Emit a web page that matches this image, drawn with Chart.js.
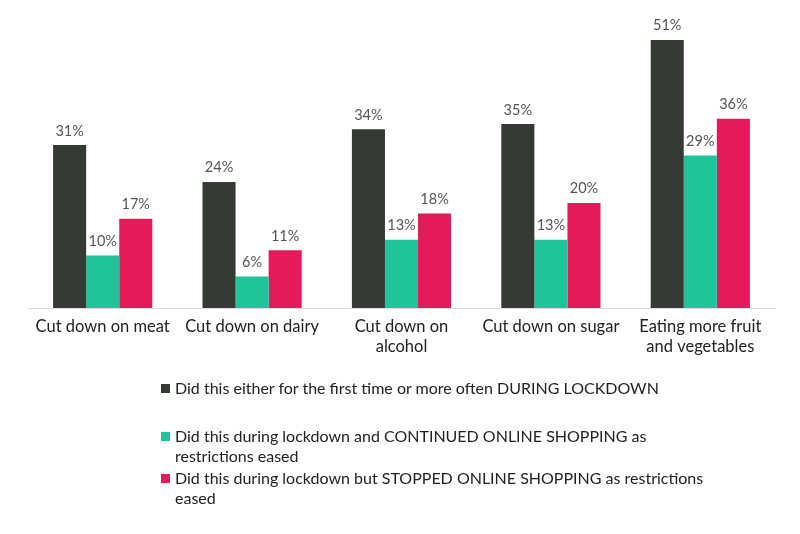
<!DOCTYPE html>
<html>
<head>
<meta charset="utf-8">
<script src="https://cdn.jsdelivr.net/npm/chart.js@4/dist/chart.umd.min.js"></script>
<style>
  html, body { margin: 0; padding: 0; background: #fff; }
  #wrap { position: relative; width: 800px; height: 534px; }
  #legend { position: absolute; left: 161px; top: 378px; width: 600px; font-family: Lato, "Open Sans", sans-serif; font-size: 16px; color: #222; }
  .item { position: absolute; padding-left: 14px; line-height: 20px; }
  .sw { position: absolute; left: 0; top: 6px; width: 9px; height: 9px; }
</style>
</head>
<body>
<div id="wrap">
  <canvas id="c" width="800" height="534"></canvas>
  <div id="legend"></div>
</div>
<script>
const categories = [["Cut down on meat"], ["Cut down on dairy"], ["Cut down on", "alcohol"], ["Cut down on sugar"], ["Eating more fruit", "and vegetables"]];
const seriesNames = [
  "Did this either for the first time or more often DURING LOCKDOWN",
  "Did this during lockdown and CONTINUED ONLINE SHOPPING as restrictions eased",
  "Did this during lockdown but STOPPED ONLINE SHOPPING as restrictions eased"
];
const duringLockdown = [31, 24, 34, 35, 51];
const continuedOnline = [10, 6, 13, 13, 29];
const stoppedOnline = [17, 11, 18, 20, 36];
const colors = ["#353a35", "#1fc49a", "#e31b5a"];

const valueLabels = {
  id: 'valueLabels',
  afterDatasetsDraw(chart) {
    const ctx = chart.ctx;
    ctx.save();
    ctx.font = '14.5px Lato, "Open Sans", sans-serif';
    ctx.fillStyle = '#555';
    ctx.textAlign = 'center';
    ctx.textBaseline = 'bottom';
    chart.data.datasets.forEach((ds, i) => {
      chart.getDatasetMeta(i).data.forEach((bar, j) => {
        ctx.fillText(ds.data[j] + '%', bar.x, bar.y - 7);
      });
    });
    ctx.restore();
  }
};

new Chart(document.getElementById('c'), {
  type: 'bar',
  data: {
    labels: categories,
    datasets: [
      { label: seriesNames[0], data: duringLockdown, backgroundColor: colors[0] },
      { label: seriesNames[1], data: continuedOnline, backgroundColor: colors[1] },
      { label: seriesNames[2], data: stoppedOnline, backgroundColor: colors[2] }
    ]
  },
  options: {
    responsive: false,
    animation: false,
    layout: { padding: { left: 28, right: 25, top: 19, bottom: 0 } },
    datasets: { bar: { categoryPercentage: 0.664, barPercentage: 1.0 } },
    plugins: { legend: { display: false }, tooltip: { enabled: false } },
    scales: {
      x: {
        grid: { display: false, drawTicks: false },
        border: { display: true, color: '#dcdcdc', width: 1 },
        ticks: { color: '#222', font: { family: 'Lato, "Open Sans", sans-serif', size: 16.5, lineHeight: 1.2 }, padding: 9, maxRotation: 0, autoSkip: false },
        afterFit(scale) { scale.height = 226; }
      },
      y: {
        display: false,
        min: 0,
        max: 55
      }
    }
  },
  plugins: [valueLabels]
});

const legend = document.getElementById('legend');
const tops = [0, 48, 90];
const widths = [600, 510, 550];
seriesNames.forEach((name, i) => {
  const d = document.createElement('div');
  d.className = 'item';
  d.style.top = tops[i] + 'px';
  d.style.width = widths[i] + 'px';
  d.innerHTML = '<span class="sw" style="background:' + colors[i] + '"></span>' + name;
  legend.appendChild(d);
});
</script>
</body>
</html>
